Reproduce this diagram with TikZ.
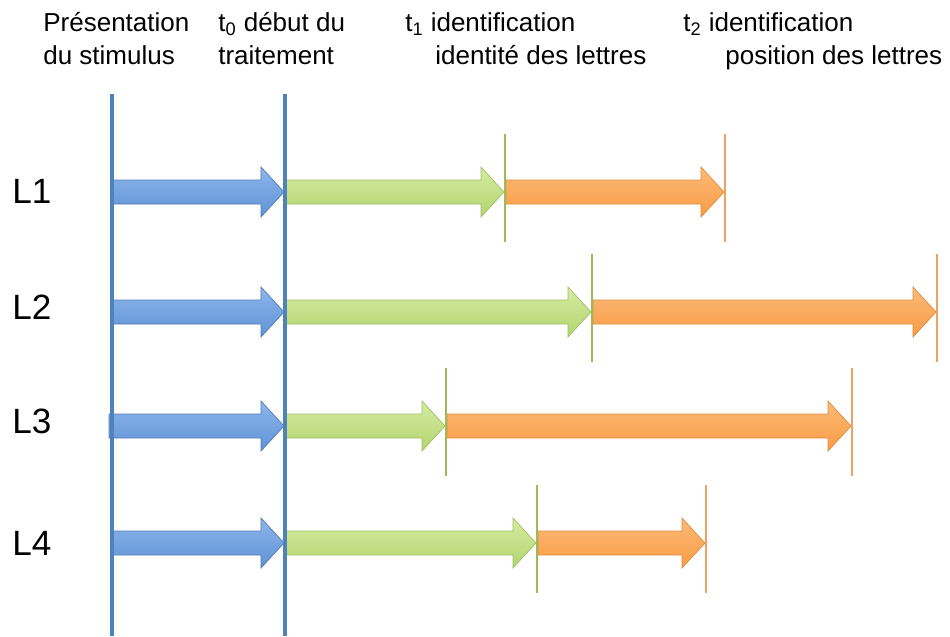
\documentclass[tikz,border=0pt]{standalone}
\usepackage{fontspec}
\setmainfont{Liberation Sans}
\usepackage{tikz}

\definecolor{traitbleu}{HTML}{4F81BD}
\definecolor{bleuhaut}{HTML}{8DB6EC}
\definecolor{bleubas}{HTML}{5F92D4}
\definecolor{vertbas}{HTML}{B2D46E}
\definecolor{verthaut}{HTML}{D6EBA2}
\definecolor{orangehaut}{HTML}{FDBA78}
\definecolor{orangebas}{HTML}{F89C44}
\definecolor{traitvert}{HTML}{9BBB59}
\definecolor{traitorange}{HTML}{EFA062}

\tikzset{
	titre/.style={anchor=base west,inner sep=0pt,font=\fontsize{14.8}{18}\selectfont},
	rang/.style={anchor=west,inner sep=0pt,font=\fontsize{20}{24}\selectfont},
	bleufleche/.style={top color=bleuhaut,bottom color=bleubas,draw=bleubas!85!black,line width=0.4pt},
	vertfleche/.style={top color=verthaut,bottom color=vertbas,draw=vertbas!90!black,line width=0.4pt},
	orangefleche/.style={top color=orangehaut,bottom color=orangebas,draw=orangebas!90!black,line width=0.4pt},
	repere/.style={line width=2.2pt,color=traitbleu},
	tickvert/.style={line width=0.9pt,color=traitvert},
	tickorange/.style={line width=0.9pt,color=traitorange}
}

\newcommand{\fleche}[4]{\draw[#1] (#2,#4-12) -- (#3-23,#4-12) -- (#3-23,#4-25) -- (#3,#4) -- (#3-23,#4+25) -- (#3-23,#4+12) -- (#2,#4+12) -- cycle;}

\begin{document}
\begin{tikzpicture}[x=0.02cm,y=-0.02cm]
\useasboundingbox (0,0) rectangle (950,636);
\node (pres1) [titre] at (43,31.5) {Présentation};
\node (pres2) [titre] at (43,64.5) {du stimulus};
\node (t0a) [titre] at (218,31.5) {t\textsubscript{0} début du};
\node (t0b) [titre] at (218,64.5) {traitement};
\node (t1a) [titre] at (405,31.5) {t\textsubscript{1} identification};
\node (t1b) [titre] at (435,64.5) {identité des lettres};
\node (t2a) [titre] at (683,31.5) {t\textsubscript{2} identification};
\node (t2b) [titre] at (725,64.5) {position des lettres};
\foreach \y/\ly/\xs/\ta/\tb/\nom in {192/191/113/505/725/L1, 312/307/113/592/937/L2, 426/421/109/446/852/L3, 543/543/113/537/706/L4}{
	\node (\nom) [rang] at (12,\ly) {\nom};
	\fleche{bleufleche}{\xs}{284}{\y}
	\fleche{vertfleche}{286}{\ta-1}{\y}
	\fleche{orangefleche}{\ta+1}{\tb-1}{\y}
	\draw[tickvert] (\ta,\y-58) -- (\ta,\y+50);
	\draw[tickorange] (\tb,\y-58) -- (\tb,\y+50);
}
\draw[repere] (112,94) -- (112,636);
\draw[repere] (285,94) -- (285,636);
\end{tikzpicture}
\end{document}
